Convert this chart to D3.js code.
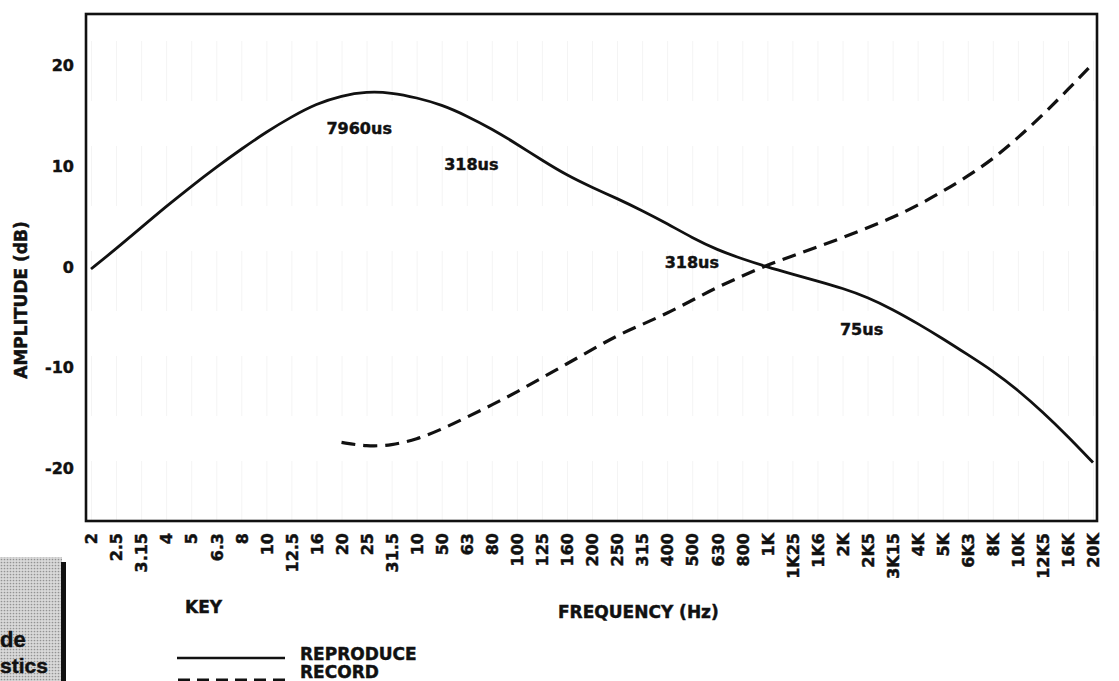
<!DOCTYPE html>
<html>
<head>
<meta charset="utf-8">
<script src="https://cdn.jsdelivr.net/npm/d3@7"></script>
<style>
  body { margin: 0; background: #fff; }
  text { font-family: "DejaVu Sans", "Liberation Sans", Arial, sans-serif; font-weight: bold;
         fill: #111; stroke: #111; stroke-width: 0.45px; }
</style>
</head>
<body>
<div id="chart"></div>
<script>
// frequency points (1/3 octave) and the labels printed under them
const freqs = [2, 2.5, 3.15, 4, 5, 6.3, 8, 10, 12.5, 16, 20, 25, 31.5, 40, 50, 63, 80, 100, 125, 160,
  200, 250, 315, 400, 500, 630, 800, 1000, 1250, 1600, 2000, 2500, 3150, 4000, 5000, 6300, 8000,
  10000, 12500, 16000, 20000];
const tickLabels = ["2", "2.5", "3.15", "4", "5", "6.3", "8", "10", "12.5", "16", "20", "25", "31.5", "10",
  "50", "63", "80", "100", "125", "160", "200", "250", "315", "400", "500", "630", "800", "1K", "1K25",
  "1K6", "2K", "2K5", "3K15", "4K", "5K", "6K3", "8K", "10K", "12K5", "16K", "20K"];
const yTicks = [-20, -10, 0, 10, 20];

// reproduce curve, one value per frequency (dB)
const reproduce = [-0.2, 1.8, 3.9, 6.0, 8.0, 9.9, 11.7, 13.4, 14.9, 16.2, 17.0, 17.4, 17.3, 16.8, 16.1,
  15.0, 13.7, 12.2, 10.6, 9.1, 7.9, 6.8, 5.6, 4.3, 2.9, 1.7, 0.8, 0.0, -0.7, -1.4, -2.1, -3.0, -4.2,
  -5.6, -7.1, -8.7, -10.3, -12.2, -14.4, -16.8, -19.4];
// record curve starts at 20 Hz
const recordFreqs = freqs.slice(10);
const record = [-17.4, -17.8, -17.7, -17.1, -16.1, -14.9, -13.7, -12.4, -11.0, -9.6, -8.2, -6.8, -5.7,
  -4.6, -3.3, -2.0, -0.9, 0.2, 1.1, 2.0, 2.9, 3.9, 4.9, 6.1, 7.5, 9.0, 10.7, 12.8, 15.1, 17.6, 20.2];

// time constant notes: position given as frequency step index and dB
const notes = [
  { text: "7960us", step: 9.4, db: 13.2 },
  { text: "318us", step: 14.1, db: 9.6 },
  { text: "318us", step: 22.9, db: -0.1 },
  { text: "75us", step: 29.9, db: -6.7 }
];

const width = 1119, height = 681;
const plot = { left: 86, right: 1097, top: 14, bottom: 521 };

const svg = d3.select("#chart").append("svg")
  .attr("width", width).attr("height", height);

// scales
const x = d3.scalePoint().domain(freqs).range([plot.left + 5, plot.right - 4]);
const y = d3.scaleLinear().domain([-25, 25]).range([plot.bottom - 2, plot.top + 1]);
const stepX = s => x(freqs[0]) + s * x.step();

// faint vertical grid (scan traces)
svg.append("g").attr("class", "xGrid")
  .attr("transform", "translate(0," + plot.bottom + ")")
  .call(d3.axisBottom(x).tickSize(-(plot.bottom - plot.top)).tickFormat(() => ""))
  .call(g => g.select(".domain").remove())
  .selectAll("line").attr("stroke", "#f4f4f4").attr("stroke-dasharray", "60,45");

// frame
svg.append("rect")
  .attr("x", plot.left).attr("y", plot.top)
  .attr("width", plot.right - plot.left).attr("height", plot.bottom - plot.top)
  .attr("fill", "none").attr("stroke", "#111").attr("stroke-width", 2.6);

// y axis labels (plain hyphen minus like the print)
svg.append("g").attr("class", "y-axis")
  .attr("transform", "translate(" + plot.left + ",0)")
  .call(d3.axisLeft(y).tickValues(yTicks).tickSize(0).tickPadding(12).tickFormat(d => String(d)))
  .call(g => g.select(".domain").remove())
  .selectAll("text").style("font-size", "16px");

// x axis labels, rotated
svg.append("g").attr("class", "x-axis")
  .attr("transform", "translate(0," + plot.bottom + ")")
  .call(d3.axisBottom(x).tickSize(0).tickFormat((d, i) => tickLabels[i]))
  .call(g => g.select(".domain").remove())
  .selectAll("text")
  .style("font-size", "16px").style("text-anchor", "end")
  .attr("transform", "rotate(-90)")
  .attr("x", -12).attr("y", 0).attr("dy", "0.36em");

// axis titles
svg.append("text").attr("text-anchor", "middle")
  .attr("transform", "translate(27,300) rotate(-90)")
  .style("font-size", "17px").text("AMPLITUDE  (dB)");
svg.append("text").attr("x", 558).attr("y", 618)
  .style("font-size", "17px").text("FREQUENCY (Hz)");

// curves
const line = d3.line()
  .x(d => x(d[0])).y(d => y(d[1]))
  .curve(d3.curveBasis);

svg.append("path").datum(freqs.map((f, i) => [f, reproduce[i]]))
  .attr("class", "line-plot").attr("fill", "none")
  .attr("stroke", "#111").attr("stroke-width", 2.8)
  .attr("d", line);

svg.append("path").datum(recordFreqs.map((f, i) => [f, record[i]]))
  .attr("class", "line-plot").attr("fill", "none")
  .attr("stroke", "#111").attr("stroke-width", 3.2)
  .attr("stroke-dasharray", "14,8")
  .attr("d", line);

// notes
svg.selectAll("text.note").data(notes).join("text")
  .attr("class", "note")
  .attr("x", d => stepX(d.step)).attr("y", d => y(d.db))
  .style("font-size", "16px").text(d => d.text);

// key
svg.append("text").attr("x", 185).attr("y", 613).style("font-size", "17px").text("KEY");
svg.append("line").attr("x1", 177).attr("x2", 285).attr("y1", 658).attr("y2", 658)
  .attr("stroke", "#111").attr("stroke-width", 2.5);
svg.append("text").attr("x", 300).attr("y", 660).style("font-size", "17px").text("REPRODUCE");
svg.append("text").attr("x", 300).attr("y", 678).style("font-size", "17px").text("RECORD");
svg.append("line").attr("x1", 178).attr("x2", 286).attr("y1", 681).attr("y2", 681)
  .attr("stroke", "#111").attr("stroke-width", 5).attr("stroke-dasharray", "12,7");

// cut-off panel at bottom left (halftone box)
const defs = svg.append("defs");
const pat = defs.append("pattern").attr("id", "dots")
  .attr("width", 3).attr("height", 3).attr("patternUnits", "userSpaceOnUse");
pat.append("rect").attr("width", 3).attr("height", 3).attr("fill", "#d9d9d9");
pat.append("circle").attr("cx", 1.5).attr("cy", 1.5).attr("r", 0.85).attr("fill", "#939393");

svg.append("rect").attr("x", 0).attr("y", 557).attr("width", 62).attr("height", 124)
  .attr("fill", "url(#dots)");
svg.append("rect").attr("x", 61).attr("y", 562).attr("width", 5).attr("height", 119)
  .attr("fill", "#111");
svg.append("text").attr("x", 0).attr("y", 647)
  .style("font-family", "'Liberation Sans', Arial, sans-serif")
  .style("font-size", "22px").text("de");
svg.append("text").attr("x", 0).attr("y", 673)
  .style("font-family", "'Liberation Sans', Arial, sans-serif")
  .style("font-size", "21px").text("stics");
</script>
</body>
</html>
